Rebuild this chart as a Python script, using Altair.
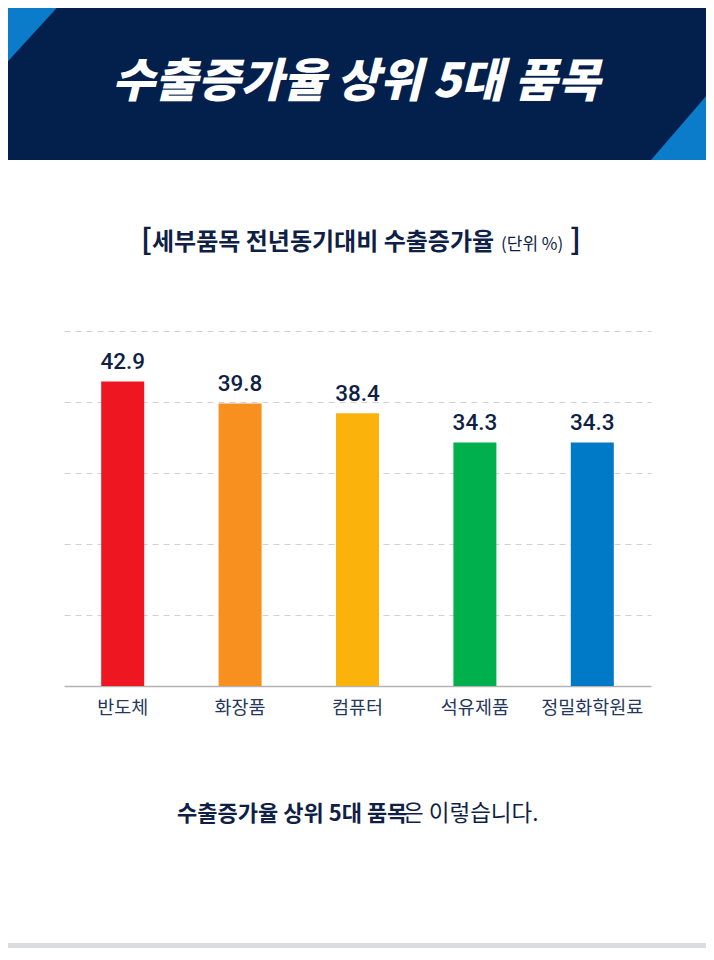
import altair as alt
import pandas as pd

items = ["반도체", "화장품", "컴퓨터", "석유제품", "정밀화학원료"]
values = [42.9, 39.8, 38.4, 34.3, 34.3]
colors = ["#ee1620", "#f7901e", "#fbb20a", "#00b04c", "#0079c6"]
grid_ticks = [10, 20, 30, 40, 50]

title_text = "수출증가율 상위 5대 품목"
sub_bold = "세부품목 전년동기대비 수출증가율"
sub_unit = "(단위 %)"
foot_bold = "수출증가율 상위 5대 품목"
foot_rest = "은 이렇습니다."

NAVY = "#031f4b"
BLUE = "#0a7cc9"
TXT = "#0f1f45"
KR = "Noto Sans CJK KR"

df = pd.DataFrame({"item": items, "value": values})
one = pd.DataFrame({"a": [0]})

W, H = 587, 355

bars = alt.Chart(df).mark_bar(size=43).encode(
    x=alt.X("item:N", sort=items, scale=alt.Scale(paddingInner=0, paddingOuter=0),
            axis=alt.Axis(title=None, labelAngle=0, ticks=False, domainColor="#b3b3b3",
                          domainWidth=1.5, labelFontSize=18.5, labelColor="#27375c",
                          labelPadding=12, labelFont=KR)),
    y=alt.Y("value:Q", scale=alt.Scale(domain=[0, 50], nice=False),
            axis=alt.Axis(values=grid_ticks, labels=False, ticks=False, domain=False,
                          title=None, grid=True, gridDash=[6, 5], gridColor="#d0d0d0",
                          gridWidth=1)),
    color=alt.Color("item:N", scale=alt.Scale(domain=items, range=colors), legend=None),
)

labels = alt.Chart(df).mark_text(baseline="bottom", dy=-7, fontSize=22.5, font="Roboto",
                                 fontWeight=500, color=TXT).encode(
    x=alt.X("item:N", sort=items),
    y=alt.Y("value:Q"),
    text=alt.Text("value:Q", format=".1f"),
)

header = alt.Chart(one).mark_rect(color=NAVY).encode(
    x=alt.value(-80), x2=alt.value(660), y=alt.value(-340), y2=alt.value(-171))

tri_left = alt.Chart(one).mark_point(shape="M-1,-1L0.829,-1L-1,1Z", filled=True,
                                     opacity=1, color=BLUE, size=4900, strokeWidth=0).encode(
    x=alt.value(-29), y=alt.value(-296))
tri_right = alt.Chart(one).mark_point(shape="M-0.726,1L1,1L1,-1Z", filled=True,
                                      opacity=1, color=BLUE, size=5329, strokeWidth=0).encode(
    x=alt.value(613.5), y=alt.value(-207.5))

title = alt.Chart(one).mark_text(text=title_text, font=KR, fontSize=46.5, fontWeight=900,
                                 fontStyle="italic", color="white", align="center",
                                 baseline="middle").encode(
    x=alt.value(292), y=alt.value(-248))

sub_l = alt.Chart(one).mark_text(text="[", font=KR, fontSize=29, fontWeight=700, color=TXT,
                                 align="left", baseline="middle").encode(
    x=alt.value(77), y=alt.value(-90))
sub_b = alt.Chart(one).mark_text(text=sub_bold, font=KR, fontSize=24, fontWeight=700, color=TXT,
                                 align="left", baseline="middle").encode(
    x=alt.value(88), y=alt.value(-88))
sub_u = alt.Chart(one).mark_text(text=sub_unit, font=KR, fontSize=17, fontWeight=400, color=TXT,
                                 align="left", baseline="middle").encode(
    x=alt.value(437), y=alt.value(-86))
sub_r = alt.Chart(one).mark_text(text="]", font=KR, fontSize=29, fontWeight=700, color=TXT,
                                 align="left", baseline="middle").encode(
    x=alt.value(506), y=alt.value(-90))

foot_b = alt.Chart(one).mark_text(text=foot_bold, font=KR, fontSize=22, fontWeight=700, color=TXT,
                                  align="left", baseline="middle").encode(
    x=alt.value(113), y=alt.value(483))
foot_r = alt.Chart(one).mark_text(text=foot_rest, font=KR, fontSize=22.5, fontWeight=400, color=TXT,
                                  align="left", baseline="middle").encode(
    x=alt.value(339), y=alt.value(483))

strip = alt.Chart(one).mark_rect(color="#dcdde0").encode(
    x=alt.value(-80), x2=alt.value(660), y=alt.value(612), y2=alt.value(640))

chart = alt.layer(
    header, tri_left, tri_right, title, sub_l, sub_b, sub_u, sub_r,
    bars, labels, foot_b, foot_r, strip
).properties(
    width=W, height=H,
    padding={"left": 56, "top": 323, "right": 55, "bottom": 262},
    autosize=alt.AutoSizeParams(type="none"),
    background="white",
).configure_view(stroke=None)

chart.save("out.html", embed_options={"renderer": "svg", "actions": False})
